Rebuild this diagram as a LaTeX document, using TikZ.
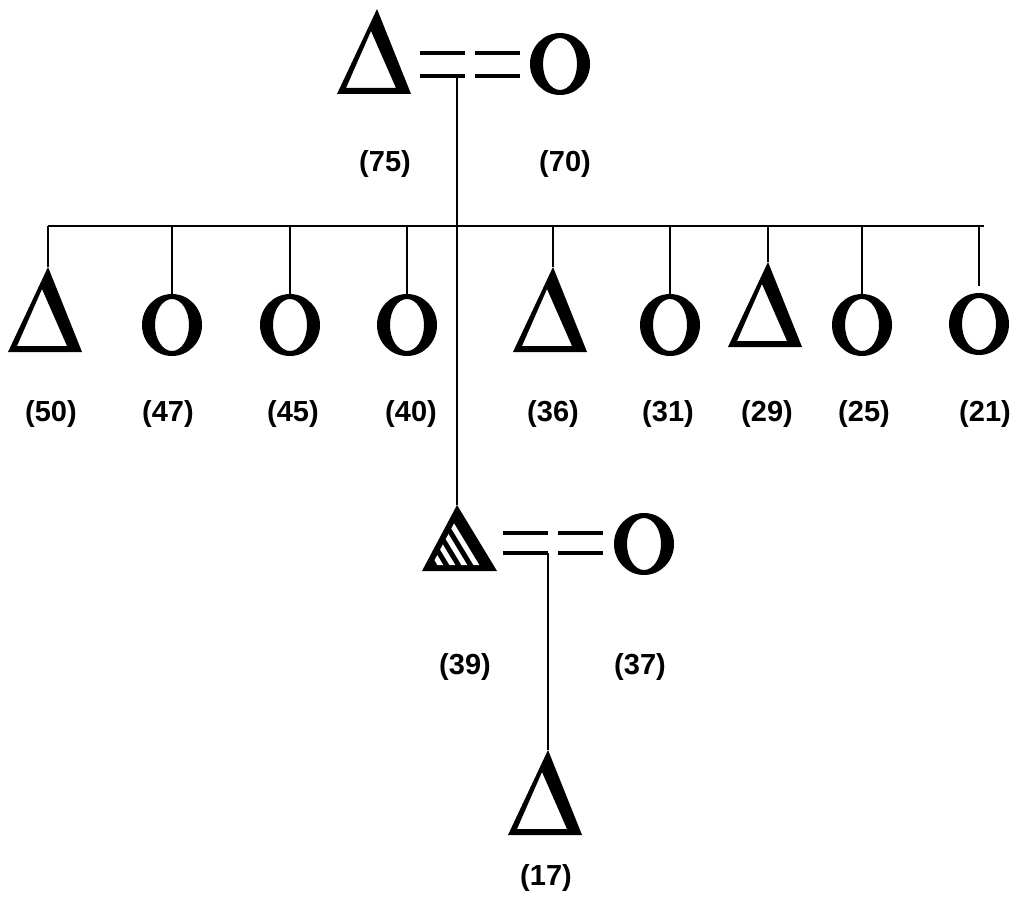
\documentclass[tikz,border=0pt]{standalone}
\usepackage{fontspec}
\setmainfont{Liberation Sans}
\begin{document}
\begin{tikzpicture}[x=1pt,y=-1pt,
  lbl/.style={font=\bfseries\fontsize{29}{29}\selectfont, inner sep=0pt, anchor=center},
  kin/.style={line width=2pt},
  sibline/.style={line width=2.5pt},
  marline/.style={line width=4pt},
  pics/tri/.style={code={
    \fill[black, even odd rule] (0,0) -- (-40,85) -- (34,85) -- cycle
      (-6,22) -- (-31,79) -- (19,79) -- cycle;
    \coordinate (-top) at (0,0);
  }},
  pics/htri/.style={code={
    \fill[black] (0,0) -- (-35,66) -- (40,66) -- cycle;
    \begin{scope}
      \clip (0.4,12.1) -- (-25,60) -- (29.4,60) -- cycle;
      \foreach \xo in {-13,-1,11,23} {
        \draw[white, line width=5pt] (\xo,66) -- ++(-60,-99);
      }
    \end{scope}
    \coordinate (-top) at (0,0);
  }},
  pics/circ/.style={code={
    \fill[black, even odd rule] (0,0) ellipse [x radius=30, y radius=31]
      (0,0) ellipse [x radius=17, y radius=26];
    \coordinate (-top) at (0,-31);
  }}
]
\useasboundingbox (0,0) rectangle (1032,912);
\fill[white] (0,0) rectangle (1032,912);

% top couple
\pic (gf) at (377,9) {tri};
\pic (gm) at (560,64) {circ};
\coordinate (ma1) at (420,53); \coordinate (ma2) at (465,53);
\coordinate (ma3) at (475,53); \coordinate (ma4) at (520,53);
\coordinate (mb1) at (420,76); \coordinate (mb2) at (465,76);
\coordinate (mb3) at (475,76); \coordinate (mb4) at (520,76);
\draw[marline] (ma1) -- (ma2) (ma3) -- (ma4) (mb1) -- (mb2) (mb3) -- (mb4);
\coordinate (d1) at (457,76);

% siblings
\coordinate (sL) at (48,226);
\coordinate (sR) at (984,226);
\draw[sibline] (sL) -- (sR);

\pic (t1) at (48,267) {tri};
\pic (c2) at (172,325) {circ};
\pic (c3) at (290,325) {circ};
\pic (c4) at (407,325) {circ};
\pic (t5) at (553,267) {tri};
\pic (c6) at (670,325) {circ};
\pic (t7) at (768,262) {tri};
\pic (c8) at (862,325) {circ};
\pic (c9) at (979,324) {circ};

\foreach \n in {t1,c2,c3,c4,t5,c6,t7,c8} {
  \draw[kin] (\n-top |- sL) -- (\n-top);
}
\draw[kin] (c9-top |- sL) -- ([yshift=7pt]c9-top);

% index person and spouse
\pic (ix) at (457,505) {htri};
\pic (sp) at (644,544) {circ};
\draw[kin] (d1) -- (ix-top);
\coordinate (na1) at (503,533); \coordinate (na2) at (548,533);
\coordinate (na3) at (558,533); \coordinate (na4) at (603,533);
\coordinate (nb1) at (503,553); \coordinate (nb2) at (548,553);
\coordinate (nb3) at (558,553); \coordinate (nb4) at (603,553);
\draw[marline] (na1) -- (na2) (na3) -- (na4) (nb1) -- (nb2) (nb3) -- (nb4);
\pic (ch) at (548,750) {tri};
\draw[kin] (nb2) -- (ch-top);

% labels
\node[lbl] (l75) at (385,164) {(75)};
\node[lbl] (l70) at (565,164) {(70)};
\node[lbl] (l50) at (51,414) {(50)};
\node[lbl] (l47) at (168,414) {(47)};
\node[lbl] (l45) at (293,414) {(45)};
\node[lbl] (l40) at (411,414) {(40)};
\node[lbl] (l36) at (553,414) {(36)};
\node[lbl] (l31) at (668,414) {(31)};
\node[lbl] (l29) at (767,414) {(29)};
\node[lbl] (l25) at (864,414) {(25)};
\node[lbl] (l21) at (985,414) {(21)};
\node[lbl] (l39) at (465,667) {(39)};
\node[lbl] (l37) at (640,667) {(37)};
\node[lbl] (l17) at (546,878) {(17)};
\end{tikzpicture}
\end{document}
